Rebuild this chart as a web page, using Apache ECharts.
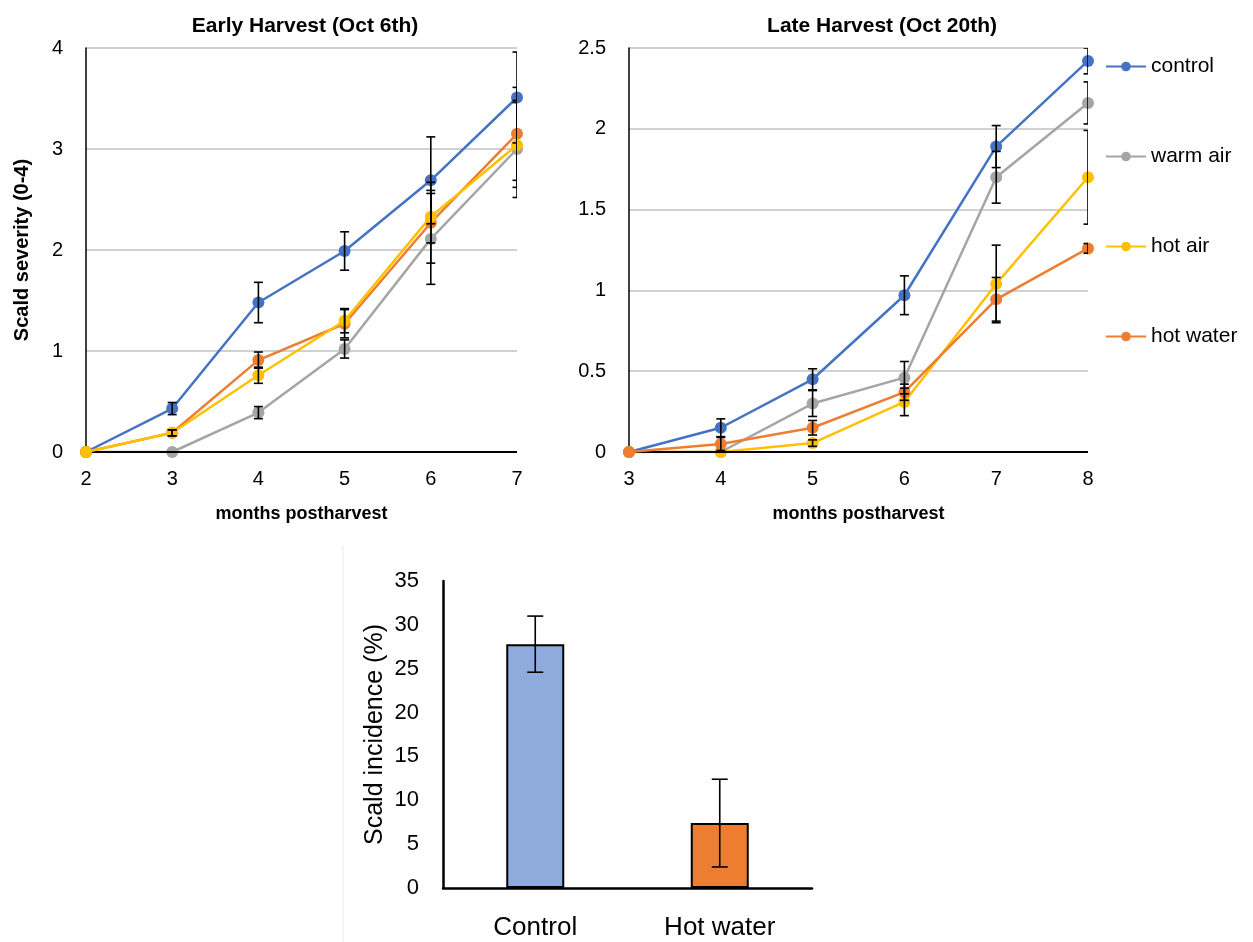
<!DOCTYPE html>
<html>
<head>
<meta charset="utf-8">
<script src="https://cdn.jsdelivr.net/npm/echarts@6/dist/echarts.min.js"></script>
<style>
  html, body { margin: 0; padding: 0; background: #fff; }
  #chart { width: 1253px; height: 942px; }
</style>
</head>
<body>
<div id="chart"></div>
<script>
// names + colours of the four treatments
const treatNames = ['control', 'warm air', 'hot air', 'hot water'];
const treatColors = ['#4472C4', '#A5A5A5', '#FFC000', '#ED7D31'];

// early harvest (Oct 6th)
const earlyMonths = [2, 3, 4, 5, 6, 7];
const earlyControl = [0, 0.43, 1.48, 1.99, 2.69, 3.51];
const earlyWarmAir = [0, 0, 0.39, 1.02, 2.11, 3.00];
const earlyHotAir = [0, 0.19, 0.76, 1.30, 2.33, 3.04];
const earlyHotWater = [0, 0.19, 0.91, 1.27, 2.27, 3.15];
const earlyControlErr = [0, 0.06, 0.20, 0.19, 0.43, 0.45];
const earlyWarmAirErr = [0, 0, 0.06, 0.09, 0.45, 0.48];
const earlyHotAirErr = [0, 0.03, 0.08, 0.12, 0.26, 0.42];
const earlyHotWaterErr = [0, 0.03, 0.08, 0.14, 0.40, 0.46];

// late harvest (Oct 20th)
const lateMonths = [3, 4, 5, 6, 7, 8];
const lateControl = [0, 0.15, 0.45, 0.97, 1.89, 2.42];
const lateWarmAir = [0, 0, 0.30, 0.46, 1.70, 2.16];
const lateHotAir = [0, 0, 0.055, 0.31, 1.04, 1.70];
const lateHotWater = [0, 0.05, 0.15, 0.37, 0.945, 1.26];
const lateControlErr = [0, 0.055, 0.065, 0.12, 0.13, 0.08];
const lateWarmAirErr = [0, 0, 0.08, 0.10, 0.16, 0.13];
const lateHotAirErr = [0, 0, 0.02, 0.085, 0.24, 0.29];
const lateHotWaterErr = [0, 0.04, 0.045, 0.05, 0.135, 0.03];

// incidence bars
const barCats = ['Control', 'Hot water'];
const barValues = [27.8, 7.4];
const barErr = [3.2, 5.0];
const barColors = ['#8FAADC', '#ED7D31'];

const FONT = 'Liberation Sans';

const myChart = echarts.init(document.getElementById('chart'));

// error bar: vertical line with caps
function errRender(params, api) {
    const x = api.value(0);
    const lo = api.coord([x, api.value(1)]);
    const hi = api.coord([x, api.value(2)]);
    const w = params.seriesName === 'barErr' ? 8 : 4.5;
    const st = { stroke: '#000', lineWidth: 1.6 };
    return {
        type: 'group',
        children: [
            { type: 'line', shape: { x1: lo[0], y1: lo[1], x2: hi[0], y2: hi[1] }, style: st },
            { type: 'line', shape: { x1: lo[0] - w, y1: lo[1], x2: lo[0] + w, y2: lo[1] }, style: st },
            { type: 'line', shape: { x1: hi[0] - w, y1: hi[1], x2: hi[0] + w, y2: hi[1] }, style: st }
        ]
    };
}

function errData(xs, vals, errs) {
    const out = [];
    vals.forEach((v, i) => {
        if (errs[i] > 0) out.push([xs[i], v - errs[i], v + errs[i]]);
    });
    return out;
}

function lineSeries(name, color, xs, vals, gi, z) {
    return {
        name: name,
        type: 'line',
        xAxisIndex: gi,
        yAxisIndex: gi,
        data: xs.map((x, i) => [x, vals[i]]),
        symbol: 'circle',
        symbolSize: 12,
        lineStyle: { color: color, width: 2.5 },
        itemStyle: { color: color },
        z: z,
        animation: false
    };
}

function errSeries(xs, vals, errs, gi) {
    return {
        name: 'err',
        type: 'custom',
        xAxisIndex: gi,
        yAxisIndex: gi,
        renderItem: errRender,
        data: errData(xs, vals, errs),
        clip: true,
        z: 10,
        animation: false
    };
}

const tickLabel = { color: '#000', fontSize: 20, fontFamily: FONT };
const boldName = { color: '#000', fontSize: 18, fontWeight: 'bold', fontFamily: FONT };

function lineX(gi, min, max) {
    return {
        type: 'value', gridIndex: gi, min: min, max: max, interval: 1,
        name: 'months postharvest', nameLocation: 'middle', nameGap: 53,
        nameTextStyle: boldName,
        axisLine: { show: false },
        axisTick: { show: false },
        splitLine: { show: false },
        axisLabel: Object.assign({ margin: 17 }, tickLabel)
    };
}

function lineY(gi, max, interval, name) {
    return {
        type: 'value', gridIndex: gi, min: 0, max: max, interval: interval,
        name: name, nameLocation: 'middle', nameGap: 54,
        nameTextStyle: Object.assign({}, boldName, { fontSize: 20 }),
        axisLine: { show: true, onZero: false, lineStyle: { color: '#000', width: 1.5 } },
        axisTick: { show: false },
        splitLine: { show: true, lineStyle: { color: '#D0D0D0', width: 2 } },
        axisLabel: Object.assign({ margin: 23 }, tickLabel)
    };
}

const option = {
    backgroundColor: '#fff',
    textStyle: { fontFamily: FONT },
    title: [
        { text: 'Early Harvest (Oct 6th)', left: 300, top: 11, textAlign: 'center',
          textStyle: { fontSize: 21, fontWeight: 'bold', color: '#000', fontFamily: FONT } },
        { text: 'Late Harvest (Oct 20th)', left: 877, top: 11, textAlign: 'center',
          textStyle: { fontSize: 21, fontWeight: 'bold', color: '#000', fontFamily: FONT } }
    ],
    legend: {
        data: treatNames,
        orient: 'vertical',
        left: 1105,
        top: 56,
        padding: 0,
        itemGap: 69,
        itemWidth: 40,
        itemHeight: 12,
        textStyle: { color: '#000', fontSize: 21, fontFamily: FONT },
        selectedMode: false
    },
    grid: [
        { left: 86, top: 48, width: 431, height: 404 },
        { left: 629, top: 48, width: 459, height: 404 },
        { left: 443, top: 581, width: 369, height: 307 }
    ],
    xAxis: [
        lineX(0, 2, 7),
        lineX(1, 3, 8),
        {
            type: 'category', gridIndex: 2, data: barCats,
            axisLine: { show: true, lineStyle: { color: '#000', width: 2.5 } },
            axisTick: { show: false },
            axisLabel: { color: '#000', fontSize: 26, fontFamily: FONT, margin: 27 }
        }
    ],
    yAxis: [
        lineY(0, 4, 1, 'Scald severity (0-4)'),
        lineY(1, 2.5, 0.5, ''),
        {
            type: 'value', gridIndex: 2, min: 0, max: 35, interval: 5,
            name: 'Scald incidence (%)', nameLocation: 'middle', nameGap: 55,
            nameTextStyle: { color: '#000', fontSize: 25, fontFamily: FONT },
            axisLine: { show: true, lineStyle: { color: '#000', width: 2.5 } },
            axisTick: { show: false },
            splitLine: { show: false },
            axisLabel: { color: '#000', fontSize: 22, fontFamily: FONT, margin: 24 }
        }
    ],
    graphic: [
        // zero lines drawn black, like the original axes
        { type: 'line', silent: true, z: 5, shape: { x1: 86, y1: 452, x2: 517, y2: 452 }, style: { stroke: '#000', lineWidth: 2 } },
        { type: 'line', silent: true, z: 5, shape: { x1: 629, y1: 452, x2: 1088, y2: 452 }, style: { stroke: '#000', lineWidth: 2 } },
        // faint frame line of the lower picture
        { type: 'line', silent: true, shape: { x1: 343, y1: 545, x2: 343, y2: 942 }, style: { stroke: '#EBEBEB', lineWidth: 1 } }
    ],
    series: [
        // early harvest
        lineSeries('control', treatColors[0], earlyMonths, earlyControl, 0, 3),
        lineSeries('warm air', treatColors[1], earlyMonths, earlyWarmAir, 0, 2),
        lineSeries('hot water', treatColors[3], earlyMonths, earlyHotWater, 0, 4),
        lineSeries('hot air', treatColors[2], earlyMonths, earlyHotAir, 0, 5),
        errSeries(earlyMonths, earlyControl, earlyControlErr, 0),
        errSeries(earlyMonths, earlyWarmAir, earlyWarmAirErr, 0),
        errSeries(earlyMonths, earlyHotAir, earlyHotAirErr, 0),
        errSeries(earlyMonths, earlyHotWater, earlyHotWaterErr, 0),
        // late harvest
        lineSeries('control', treatColors[0], lateMonths, lateControl, 1, 3),
        lineSeries('warm air', treatColors[1], lateMonths, lateWarmAir, 1, 2),
        lineSeries('hot air', treatColors[2], lateMonths, lateHotAir, 1, 4),
        lineSeries('hot water', treatColors[3], lateMonths, lateHotWater, 1, 5),
        errSeries(lateMonths, lateControl, lateControlErr, 1),
        errSeries(lateMonths, lateWarmAir, lateWarmAirErr, 1),
        errSeries(lateMonths, lateHotAir, lateHotAirErr, 1),
        errSeries(lateMonths, lateHotWater, lateHotWaterErr, 1),
        // incidence
        {
            name: 'incidence',
            type: 'bar',
            xAxisIndex: 2,
            yAxisIndex: 2,
            barWidth: 58,
            data: barValues.map((v, i) => ({
                value: v,
                itemStyle: { color: barColors[i], borderColor: '#000', borderWidth: 2 }
            })),
            animation: false
        },
        {
            name: 'barErr',
            type: 'custom',
            xAxisIndex: 2,
            yAxisIndex: 2,
            renderItem: errRender,
            data: barValues.map((v, i) => [i, v - barErr[i], v + barErr[i]]),
            z: 10,
            animation: false
        }
    ]
};

myChart.setOption(option);
window.addEventListener('resize', () => myChart.resize());
</script>
</body>
</html>
